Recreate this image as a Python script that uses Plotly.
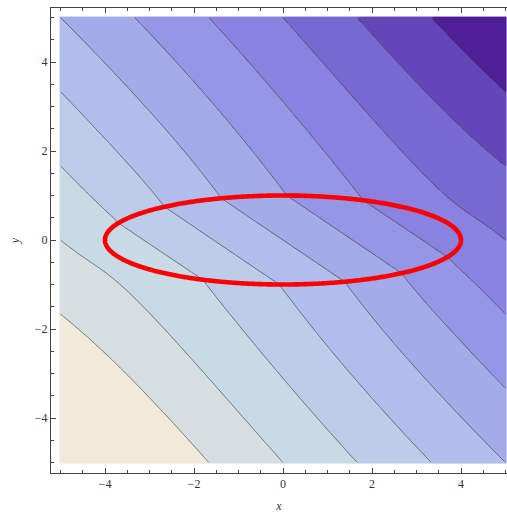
import numpy as np
import plotly.graph_objects as go

# ---- values ----
x_lo, x_hi = -5.0, 5.0            # data region
y_lo, y_hi = -5.0, 5.0
ellipse_a, ellipse_b = 4.0, 1.0   # red ellipse semi-axes (x^2/16 + y^2 = 1)
k_inside = 0.5
boundary_gx, boundary_gy = 1.0, 1.0  # boundary values u = x + y on the square edges
contour_levels = [-20/3, -5, -10/3, -5/3, 0, 5/3, 10/3, 5, 20/3, 25/3]
band_edges = [-10, -20/3, -5, -10/3, -5/3, 0, 5/3, 10/3, 5, 20/3, 25/3, 10]
band_colors = ["#F1E9DA", "#D6DEE2", "#C8DAE6", "#BCCDEA", "#AFBEEB", "#A3ACE9",
               "#9696E6", "#8A82E1", "#7869D2", "#6446B9", "#501E96"]
tick_vals = [-4, -2, 0, 2, 4]
tick_text = ["\u22124", "\u22122", "0", "2", "4"]

# ---- field: potential solving div(k grad u)=0 on the square ----
n = 241
xs = np.linspace(x_lo, x_hi, n)
ys = np.linspace(y_lo, y_hi, n)
X, Y = np.meshgrid(xs, ys)
h = xs[1] - xs[0]

def kfun(px, py):
    inside = (px / ellipse_a) ** 2 + (py / ellipse_b) ** 2 < 1
    return np.where(inside, k_inside, 1.0)

def face_k(cx, cy, dx, dy):
    acc = np.zeros_like(cx)
    m = 5
    for s in np.linspace(-0.5, 0.5, m):
        acc += 1.0 / kfun(cx + s * dx, cy + s * dy)
    return m / acc

kx = face_k(0.5 * (X[:, 1:] + X[:, :-1]), Y[:, 1:], h, 0.0)   # (n, n-1)
ky = face_k(X[1:, :], 0.5 * (Y[1:, :] + Y[:-1, :]), 0.0, h)   # (n-1, n)

def Lop(u):
    r = np.zeros_like(u)
    c = u[1:-1, 1:-1]
    r[1:-1, 1:-1] = (kx[1:-1, 1:] * (u[1:-1, 2:] - c) + kx[1:-1, :-1] * (u[1:-1, :-2] - c)
                     + ky[1:, 1:-1] * (u[2:, 1:-1] - c) + ky[:-1, 1:-1] * (u[:-2, 1:-1] - c))
    return r

ub = boundary_gx * X + boundary_gy * Y
b = Lop(ub)
diag = np.ones_like(ub)
diag[1:-1, 1:-1] = kx[1:-1, 1:] + kx[1:-1, :-1] + ky[1:, 1:-1] + ky[:-1, 1:-1]
v = np.zeros_like(ub)
r = b.copy()
zv = r / diag
p = zv.copy()
rz = np.sum(r * zv)
for it in range(4000):
    Ap = -Lop(p)
    alpha = rz / np.sum(p * Ap)
    v += alpha * p
    r -= alpha * Ap
    if np.sqrt(np.sum(r * r)) < 1e-9:
        break
    zv = r / diag
    rz_new = np.sum(r * zv)
    p = zv + (rz_new / rz) * p
    rz = rz_new
U = ub + v

zmin, zmax = band_edges[0], band_edges[-1]
cs = []
for i, col in enumerate(band_colors):
    a0 = (band_edges[i] - zmin) / (zmax - zmin)
    a1 = (band_edges[i + 1] - zmin) / (zmax - zmin)
    cs.append([a0, col])
    cs.append([a1, col])

fig = go.Figure()
fig.add_trace(go.Heatmap(x=xs, y=ys, z=U, colorscale=cs, zmin=zmin, zmax=zmax,
                         zsmooth="best", showscale=False, hoverinfo="skip"))
fig.add_trace(go.Contour(x=xs, y=ys, z=U, autocontour=False,
                         contours=dict(start=contour_levels[0], end=contour_levels[-1],
                                       size=5/3, coloring="none"),
                         line=dict(color="rgba(60,60,60,0.65)", width=1),
                         showscale=False, hoverinfo="skip"))
t = np.linspace(0, 2 * np.pi, 721)
fig.add_trace(go.Scatter(x=ellipse_a * np.cos(t), y=ellipse_b * np.sin(t), mode="lines",
                         line=dict(color="rgb(252,0,0)", width=4.6, simplify=False),
                         hoverinfo="skip"))

ppu = 44.5  # pixels per data unit in the reference
axis_common = dict(
    showgrid=False, zeroline=False, showline=True, linecolor="#444", linewidth=1,
    ticks="inside", ticklen=5, tickcolor="#444", tickwidth=1, automargin=False,
    tickvals=tick_vals, ticktext=tick_text,
    tickfont=dict(family="Liberation Serif", size=12, color="#333"),
    minor=dict(dtick=0.5, tick0=0, ticks="inside", ticklen=3, tickcolor="#444", tickwidth=1),
)
fig.update_layout(
    width=507, height=516,
    margin=dict(l=51, r=0, t=8, b=43),
    paper_bgcolor="white", plot_bgcolor="white",
    showlegend=False,
    xaxis=dict(range=[x_lo - 9.5 / ppu, x_hi + 1.5 / ppu], mirror="ticks",
               title=dict(text="<i>x</i>", font=dict(family="Liberation Serif", size=12, color="#333"),
                          standoff=11),
               **axis_common),
    yaxis=dict(range=[y_lo - 10.5 / ppu, y_hi + 9.5 / ppu], mirror=False,
               title=dict(text="<i>y</i>", font=dict(family="Liberation Serif", size=12, color="#333"),
                          standoff=12),
               **axis_common),
)
fig.write_html("out.html", config={"displayModeBar": False},
               post_script="document.body.style.margin='0';document.body.style.overflow='hidden';")
